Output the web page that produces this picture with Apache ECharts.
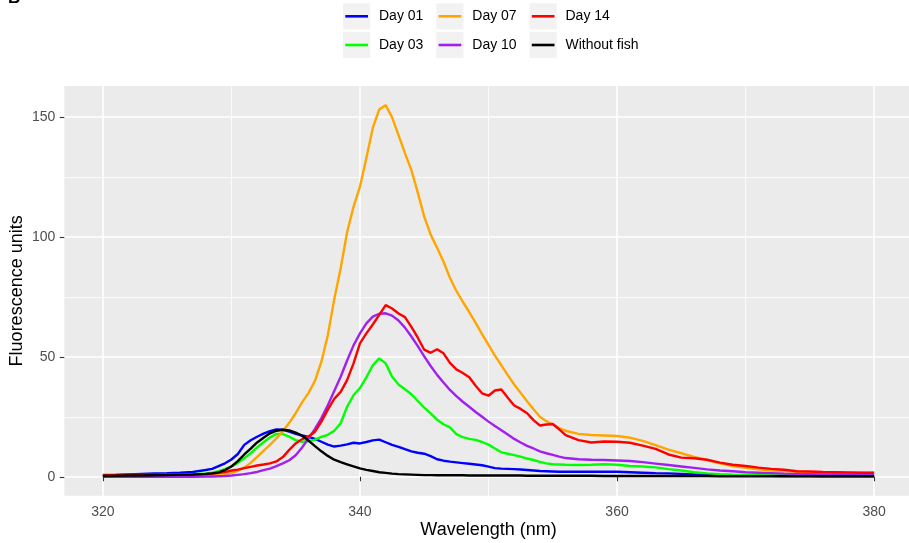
<!DOCTYPE html>
<html>
<head>
<meta charset="utf-8">
<title>Fluorescence spectra</title>
<script src="https://cdn.jsdelivr.net/npm/echarts@6/dist/echarts.min.js"></script>
<style>
  html, body { margin: 0; padding: 0; background: #ffffff; }
  #chart { width: 909px; height: 543px; }
</style>
</head>
<body>
<div id="chart"></div>
<script>
// Emission wavelengths (nm); finer steps across the emission band
const wavelengths = [
  320, 321, 322, 323, 324, 325, 326, 327,
  328, 328.5, 329, 329.5, 330, 330.5, 331, 331.5, 332, 332.5, 333, 333.5,
  334, 334.5, 335, 335.5, 336, 336.5, 337, 337.5, 338, 338.5, 339, 339.5,
  340, 340.5, 341, 341.5, 342, 342.5, 343, 343.5, 344, 344.5, 345, 345.5,
  346, 346.5, 347, 347.5, 348, 348.5, 349, 349.5, 350, 350.5, 351, 351.5,
  352, 352.5, 353, 353.5, 354, 354.5, 355, 355.5, 356,
  357, 358, 359, 360, 361, 362, 363, 364, 365, 366, 367, 368, 369, 370,
  371, 372, 373, 374, 375, 376, 377, 378, 379, 380
];

const day01 = [
  0.7, 0.8, 1.0, 1.2, 1.4, 1.5, 1.7, 2.0,
  2.8, 3.3, 4.4, 5.6, 7.2, 9.5, 13.3, 15.2, 16.7, 18.0, 19.0, 19.7,
  19.6, 18.8, 17.9, 17.2, 16.6, 15.8, 14.6, 13.4, 12.6, 13.0, 13.5, 14.2,
  13.9, 14.5, 15.2, 15.5, 14.4, 13.3, 12.5, 11.5, 10.6, 10.0, 9.6, 8.6,
  7.3, 6.7, 6.3, 6.0, 5.7, 5.4, 5.1, 4.8, 4.2, 3.6, 3.4, 3.3,
  3.2, 3.0, 2.8, 2.6, 2.4, 2.3, 2.2, 2.1, 2.1,
  2.1, 2.1, 2.1, 2.1, 1.9, 1.7, 1.5, 1.4, 1.2, 1.0, 0.8, 0.7, 0.6, 0.5,
  0.4, 0.4, 0.3, 0.3, 0.3, 0.2, 0.2, 0.2, 0.2, 0.2
];

const day03 = [
  0.5, 0.5, 0.6, 0.6, 0.7, 0.8, 0.9, 1.1,
  1.4, 1.7, 2.3, 3.2, 4.3, 5.8, 7.7, 9.8, 12.2, 14.4, 16.4, 17.9,
  17.8, 16.7, 15.3, 14.6, 14.8, 15.5, 16.6, 17.5, 19.2, 22.3, 29.2, 34.0,
  37.0, 41.5, 46.5, 49.4, 47.3, 41.7, 38.5, 36.5, 34.4, 31.6, 28.8, 26.4,
  23.8, 21.9, 20.6, 17.8, 16.5, 15.8, 15.4, 14.5, 13.4, 11.8, 10.2, 9.6,
  9.0, 8.4, 7.6, 7.0, 6.2, 5.6, 5.2, 5.1, 5.0,
  4.9, 5.0, 5.2, 5.0, 4.5, 4.3, 3.9, 3.2, 2.6, 1.9, 1.4, 1.1, 0.9, 0.8,
  0.8, 0.7, 0.7, 0.6, 0.6, 0.5, 0.5, 0.5, 0.5, 0.5
];

const day07 = [
  0.3, 0.3, 0.4, 0.4, 0.5, 0.5, 0.6, 0.7,
  0.8, 0.9, 1.0, 1.2, 1.6, 2.5, 3.8, 5.8, 8.3, 10.8, 13.3, 16.0,
  19.0, 22.5, 26.5, 31.0, 35.0, 40.0, 48.0, 59.0, 74.0, 87.0, 102.0, 112.6,
  121.0, 133.0, 145.5, 153.2, 155.0, 149.9, 142.5, 135.0, 127.9, 118.5, 108.5, 101.0,
  95.5, 89.7, 83.0, 77.5, 73.0, 68.7, 64.2, 59.5, 55.0, 50.5, 46.5, 42.4,
  38.5, 35.0, 31.5, 28.2, 25.0, 23.2, 21.8, 20.3, 19.2,
  17.9, 17.4, 17.2, 17.0, 16.3, 15.0, 13.2, 11.3, 9.8, 8.3, 7.0, 5.6, 4.5, 3.7,
  3.1, 2.6, 2.3, 2.1, 1.9, 1.8, 1.8, 1.7, 1.7, 1.7
];

const day10 = [
  0, 0, 0, 0, 0, 0, 0, 0,
  0.1, 0.1, 0.2, 0.3, 0.5, 0.8, 1.1, 1.5, 2.0, 2.8, 3.4, 4.4,
  5.6, 6.9, 9.0, 12.2, 16.0, 20.0, 24.5, 29.8, 35.8, 41.7, 48.5, 54.8,
  59.8, 64.0, 66.8, 68.0, 68.2, 67.2, 65.2, 62.2, 58.5, 54.5, 50.2, 46.2,
  42.5, 39.3, 36.2, 33.6, 31.3, 29.2, 27.0, 25.0, 23.0, 21.2, 19.4, 17.6,
  15.8, 14.3, 12.9, 11.8, 10.6, 9.8, 9.1, 8.4, 7.8,
  7.3, 7.1, 7.0, 6.8, 6.6, 6.1, 5.5, 4.9, 4.3, 3.7, 3.1, 2.6, 2.3, 1.9,
  1.7, 1.5, 1.3, 1.2, 1.1, 1.0, 1.0, 0.9, 0.9, 0.9
];

const day14 = [
  0.8, 0.8, 0.9, 0.9, 0.9, 0.9, 1.0, 1.0,
  1.1, 1.3, 1.6, 2.0, 2.6, 3.0, 3.6, 4.1, 4.7, 5.1, 5.6, 6.4,
  8.2, 11.2, 13.9, 15.7, 16.8, 18.8, 23.0, 28.0, 32.5, 35.4, 40.3, 47.3,
  55.6, 59.8, 63.5, 67.5, 71.6, 70.2, 68.1, 66.6, 62.5, 58.0, 53.0, 51.7,
  53.2, 51.5, 47.5, 44.8, 43.3, 41.5, 38.0, 34.8, 33.8, 36.0, 36.4, 33.0,
  29.7, 28.3, 26.5, 23.6, 21.4, 21.8, 22.0, 19.8, 17.4,
  15.3, 14.3, 14.7, 14.6, 14.2, 13.0, 11.6, 9.3, 8.0, 7.7, 7.1, 5.9, 5.0, 4.5,
  3.8, 3.3, 2.9, 2.3, 2.2, 2.0, 1.9, 1.8, 1.7, 1.7
];

const withoutFish = [
  0.3, 0.4, 0.5, 0.5, 0.6, 0.7, 0.8, 0.9,
  1.2, 1.4, 1.8, 2.8, 4.3, 6.5, 9.3, 11.7, 14.3, 16.3, 18.1, 19.2,
  19.6, 19.3, 18.4, 17.1, 15.1, 12.8, 10.6, 8.7, 7.1, 6.1, 5.2, 4.3,
  3.5, 2.9, 2.4, 1.9, 1.6, 1.3, 1.1, 1.0, 0.9, 0.8, 0.7, 0.7,
  0.6, 0.6, 0.6, 0.6, 0.6, 0.5, 0.5, 0.5, 0.5, 0.5, 0.5, 0.5,
  0.5, 0.5, 0.4, 0.4, 0.4, 0.4, 0.4, 0.4, 0.4,
  0.4, 0.4, 0.3, 0.3, 0.3, 0.3, 0.3, 0.3, 0.3, 0.3, 0.3, 0.2, 0.2, 0.2,
  0.2, 0.2, 0.2, 0.2, 0.2, 0.2, 0.2, 0.2, 0.2, 0.2
];

const seriesNames = ['Day 01', 'Day 03', 'Day 07', 'Day 10', 'Day 14', 'Without fish'];
const seriesValues = [day01, day03, day07, day10, day14, withoutFish];
const seriesColors = ['#0000FF', '#00FF00', '#FFA500', '#A020F0', '#FF0000', '#000000'];

const xMajorTicks = [320, 340, 360, 380];
const xMinorTicks = [330, 350, 370];
const yMajorTicks = [0, 50, 100, 150];
const yMinorTicks = [25, 75, 125];

const FONT = '"Liberation Sans", Arial, Helvetica, sans-serif';

const chart = echarts.init(document.getElementById('chart'), null, { renderer: 'canvas' });

// Panel geometry (ggplot-style padded ranges)
const X_MIN = 317, X_MAX = 383;
const Y_MIN = -7.9, Y_MAX = 163;
const grid = { left: 64.3, top: 86, width: 848.4, height: 409.7, show: true,
  backgroundColor: '#EBEBEB', borderWidth: 0, containLabel: false,
  outerBoundsMode: 'none' };

// Legend: three columns, two rows, each key on a light grey square
const legendCols = [343, 436.3, 529.5];
const legendRows = [3.3, 32];
const legendLayout = [
  [0, 0], [0, 1], [1, 0], [1, 1], [2, 0], [2, 1]
];
const legends = seriesNames.map((name, i) => {
  const [c, r] = legendLayout[i];
  return {
    data: [name],
    left: legendCols[c] + 2.3,
    top: legendRows[r] + 13 - 8,
    padding: 0,
    itemWidth: 22.7,
    itemHeight: 2.6,
    icon: 'rect',
    selectedMode: false,
    textStyle: { fontFamily: FONT, fontSize: 14, color: '#000000', lineHeight: 16,
      padding: [0, 0, 0, 6] }
  };
});

const keyBoxes = [];
legendCols.forEach(x => legendRows.forEach(y => {
  keyBoxes.push({ type: 'rect', left: x, top: y, z: -1,
    shape: { width: 27.2, height: 26 }, style: { fill: '#F2F2F2' } });
}));

const axisCommon = {
  type: 'value',
  axisLine: { show: false },
};

const option = {
  animation: false,
  backgroundColor: '#ffffff',
  grid: grid,
  legend: legends,
  graphic: keyBoxes.concat([{
    type: 'text', left: 8, top: -10,
    style: { text: 'B', font: 'bold 17px ' + FONT, fill: '#000000' }
  }]),
  xAxis: [
    Object.assign({}, axisCommon, {
      min: X_MIN, max: X_MAX,
      name: 'Wavelength (nm)', nameLocation: 'middle', nameGap: 25.5,
      nameMoveOverlap: false,
      nameTextStyle: { fontFamily: FONT, fontSize: 18, color: '#000000' },
      axisTick: { show: true, length: 4.5, customValues: xMajorTicks,
        lineStyle: { color: '#333333', width: 1.1 } },
      axisLabel: { customValues: xMajorTicks, margin: 9, fontFamily: FONT,
        fontSize: 14, color: '#4D4D4D' },
      splitLine: { show: true, lineStyle: { color: '#FFFFFF', width: 1.6 } },
      z: 1
    }),
    Object.assign({}, axisCommon, {
      min: X_MIN, max: X_MAX, position: 'bottom',
      axisTick: { show: false, customValues: xMinorTicks },
      axisLabel: { show: false },
      splitLine: { show: true, lineStyle: { color: '#FFFFFF', width: 0.8 } },
      z: 0
    })
  ],
  yAxis: [
    Object.assign({}, axisCommon, {
      min: Y_MIN, max: Y_MAX,
      name: 'Fluorescence units', nameLocation: 'middle', nameGap: 38,
      nameMoveOverlap: false,
      nameTextStyle: { fontFamily: FONT, fontSize: 18, color: '#000000' },
      axisTick: { show: true, length: 4.5, customValues: yMajorTicks,
        lineStyle: { color: '#333333', width: 1.1 } },
      axisLabel: { customValues: yMajorTicks, margin: 9, fontFamily: FONT,
        fontSize: 14, color: '#4D4D4D' },
      splitLine: { show: true, lineStyle: { color: '#FFFFFF', width: 1.6 } },
      z: 1
    }),
    Object.assign({}, axisCommon, {
      min: Y_MIN, max: Y_MAX, position: 'left',
      axisTick: { show: false, customValues: yMinorTicks },
      axisLabel: { show: false },
      splitLine: { show: true, lineStyle: { color: '#FFFFFF', width: 0.8 } },
      z: 0
    })
  ],
  series: seriesNames.map((name, i) => ({
    name: name,
    type: 'line',
    xAxisIndex: 0,
    yAxisIndex: 0,
    showSymbol: false,
    symbol: 'none',
    color: seriesColors[i],
    lineStyle: { width: 2.4, color: seriesColors[i] },
    data: wavelengths.map((w, k) => [w, seriesValues[i][k]]),
    z: 2 + i
  }))
};

chart.setOption(option);
</script>
</body>
</html>
